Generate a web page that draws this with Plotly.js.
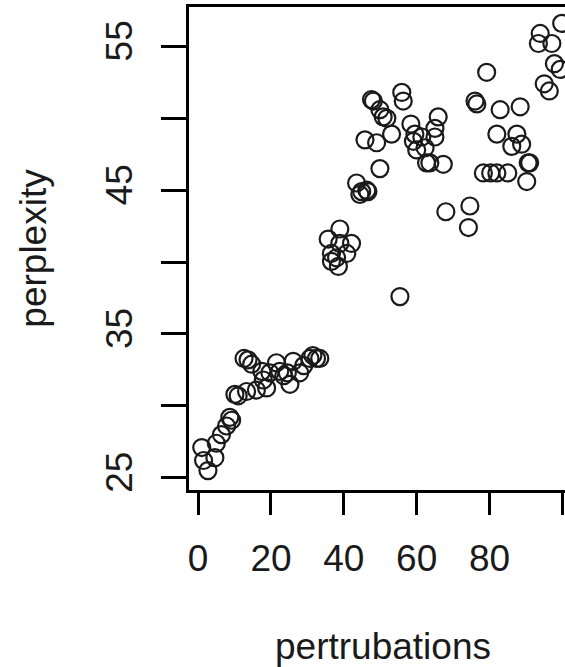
<!DOCTYPE html>
<html>
<head>
<meta charset="utf-8">
<script src="https://cdn.plot.ly/plotly-3.0.1.min.js"></script>
<style>
html,body{margin:0;padding:0;overflow:hidden;background:#fff;width:565px;height:667px;}
#chart{width:600px;height:667px;}
</style>
</head>
<body>
<div id="chart"></div>
<script>
// perturbations (x) and perplexity (y)
const pertrubations = [
  1, 1.5, 2.7, 4.6, 5.0, 6.4, 7.8, 8.7, 9.2, 10.1, 11, 12.6, 13.3, 13.7, 14.7, 16.0, 17.5, 17.9, 18.8, 19.7,
  21.5, 22.4, 23.5, 24.5, 25.2, 26.1, 27.9, 29, 30.7, 31.5, 32.5, 33.4,
  35.7, 36.6, 36.6, 38.0, 38.5, 38.9, 38.9, 40.8, 42.1,
  43.5, 44.4, 44.9, 46.3, 46.6, 45.8, 47.6, 48.1, 49.0, 49.9, 49.9, 50.8, 51.8, 53.1, 55.4, 55.9, 56.3,
  58.4, 59.1, 59.5, 60.0, 61.4, 62.3, 62.7, 63.6, 65.0, 65.0, 65.9, 67.3, 68.0,
  74.2, 74.6, 76.0, 76.5, 78.3, 79.2, 80.3, 82, 82.9, 82, 85.0, 86.1, 87.5, 88.4, 88.8, 90.2, 90.6, 91,
  93.4, 93.9, 95.0, 96.4, 97.1, 97.8, 99.4, 99.8
];
const perplexity = [
  27.1, 26.2, 25.5, 26.4, 27.4, 28.0, 28.6, 29.2, 29.0, 30.8, 30.7, 33.3, 31.0, 33.2, 32.9, 31.1, 32.4, 31.8, 31.25, 32.3,
  33.0, 32.4, 32.1, 32.3, 31.5, 33.1, 32.3, 32.8, 33.3, 33.5, 33.3, 33.3,
  41.6, 40.6, 40.05, 40.3, 39.7, 42.3, 41.3, 40.6, 41.3,
  45.5, 44.7, 44.9, 45.0, 44.9, 48.5, 51.3, 51.2, 48.3, 46.5, 50.6, 50.1, 50.0, 48.9, 37.6, 51.8, 51.2,
  49.6, 48.4, 48.9, 47.8, 48.7, 47.95, 46.9, 46.9, 48.7, 49.3, 50.1, 46.8, 43.5,
  42.4, 43.9, 51.2, 51.0, 46.2, 53.2, 46.2, 46.2, 50.6, 48.9, 46.2, 48.05, 48.9, 50.8, 48.2, 45.6, 46.9, 46.9,
  55.2, 55.9, 52.4, 51.9, 55.2, 53.8, 53.4, 56.6
];
const xTickVals = [0, 20, 40, 60, 80, 100];
const xTickText = ['0', '20', '40', '60', '80', ''];
const yTickVals = [25, 30, 35, 40, 45, 50, 55];
const yTickText = ['25', '', '35', '', '45', '', '55'];

const font = 'Liberation Sans, Arial, sans-serif';

Plotly.newPlot('chart', [{
  x: pertrubations,
  y: perplexity,
  type: 'scatter',
  mode: 'markers',
  marker: {symbol: 'circle-open', size: 17, color: '#1a1a1a', line: {width: 2.2}},
  hoverinfo: 'skip'
}], {
  width: 600, height: 667,
  margin: {l: 189, r: 23, t: 7, b: 177},
  paper_bgcolor: '#fff', plot_bgcolor: '#fff',
  showlegend: false,
  xaxis: {
    range: [-2.5, 104.0],
    tickvals: xTickVals, ticktext: xTickText,
    ticks: 'outside', ticklen: 22, tickwidth: 3, tickcolor: '#000',
    showline: true, linewidth: 3, linecolor: '#000', mirror: true,
    showgrid: false, zeroline: false,
    tickfont: {family: font, size: 37, color: '#1a1a1a'},
    ticklabelstandoff: 12,
    title: {text: 'pertrubations', font: {family: font, size: 37, color: '#1a1a1a'}, standoff: 60}
  },
  yaxis: {
    range: [24.15, 57.74],
    tickvals: yTickVals, ticktext: yTickText,
    ticks: 'outside', ticklen: 25, tickwidth: 3, tickcolor: '#000',
    showline: true, linewidth: 3, linecolor: '#000', mirror: true,
    showgrid: false, zeroline: false,
    tickangle: -90,
    tickfont: {family: font, size: 37, color: '#1a1a1a'},
    ticklabelstandoff: 14,
    title: {text: 'perplexity', font: {family: font, size: 37, color: '#1a1a1a'}, standoff: 42}
  }
}, {staticPlot: true, displayModeBar: false});
</script>
</body>
</html>
